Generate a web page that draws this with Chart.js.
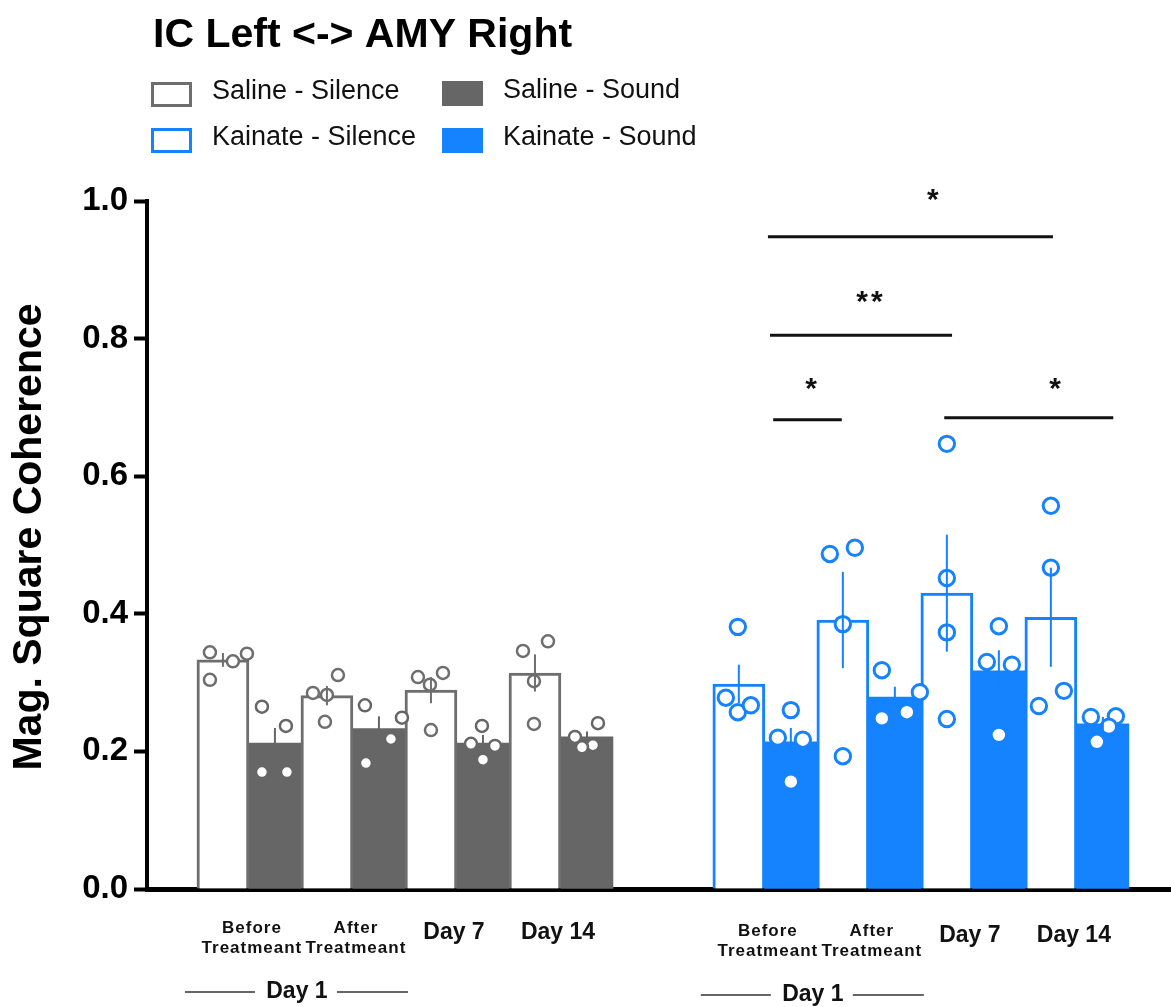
<!DOCTYPE html>
<html>
<head>
<meta charset="utf-8">
<script src="https://cdn.jsdelivr.net/npm/chart.js@4.4.1/dist/chart.umd.min.js"></script>
<style>
  html, body { margin: 0; padding: 0; background: #fff; overflow: hidden; }
  #wrap { width: 1171px; height: 1007px; position: relative; }
  canvas { display: block; }
</style>
</head>
<body>
<div id="wrap"><canvas id="chart"></canvas></div>
<script>
/* ===================== DATA ===================== */
const chartTitle = "IC Left <-> AMY Right";
const yTitle = "Mag. Square Coherence";
const timepoints = [["Before", "Treatmeant"], ["After", "Treatmeant"], ["Day 7"], ["Day 14"]];
const dayLabel = "Day 1";
const seriesNames = ["Saline - Silence", "Saline - Sound", "Kainate - Silence", "Kainate - Sound"];

// bar heights (mean)
const salineSilence = [0.333, 0.281, 0.289, 0.314];
const salineSound = [0.212, 0.233, 0.212, 0.221];
const kainateSilence = [0.298, 0.391, 0.430, 0.395];
const kainateSound = [0.214, 0.279, 0.317, 0.240];

// error (SEM)
const salineSilenceSem = [0.010, 0.014, 0.019, 0.027];
const salineSoundSem = [0.022, 0.018, 0.012, 0.008];
const kainateSilenceSem = [0.028, 0.070, 0.085, 0.072];
const kainateSoundSem = [0.020, 0.015, 0.030, 0.010];

// single animals, one row per time point
const salineSilencePts = [[0.344, 0.304, 0.331, 0.342], [0.285, 0.282, 0.311, 0.243], [0.308, 0.314, 0.297, 0.231], [0.346, 0.360, 0.302, 0.240]];
const salineSoundPts = [[0.265, 0.237, 0.170, 0.170], [0.267, 0.249, 0.218, 0.183], [0.237, 0.211, 0.208, 0.188], [0.221, 0.241, 0.209, 0.206]];
const kainateSilencePts = [[0.381, 0.278, 0.257, 0.267], [0.487, 0.496, 0.385, 0.193], [0.647, 0.452, 0.373, 0.247], [0.557, 0.467, 0.288, 0.266]];
const kainateSoundPts = [[0.260, 0.220, 0.217, 0.156], [0.318, 0.286, 0.257, 0.248], [0.382, 0.330, 0.326, 0.224], [0.250, 0.251, 0.236, 0.214]];

// significance bars (kainate group, in bar slots from its first bar)
const sigFrom = [0.56, 0.60, 0.66, 3.95];
const sigTo = [6.04, 4.10, 1.98, 7.20];
const sigY = [0.948, 0.805, 0.682, 0.685];
const sigText = ["*", "**", "*", "*"];
const sigTextX = [3.73, 2.54, 1.39, 6.08];
const sigTextY = [1.013, 0.865, 0.738, 0.738];

/* ===================== LAYOUT ===================== */
const GRAY = "#666666";
const GRAY_LINE = "#6e6e6e";
const BLUE = "#1582fe";
const KAIN = 9.92;      // slot where kainate group starts
const SLOT_PX = 52;
const FONT = "'Liberation Sans', Arial, sans-serif";

// horizontal scatter of the dots, px from bar centre
const jitter = [
  [[-13, -13, 10, 24], [-14, 0, 11, -2], [-13, 12, -1, 0], [-12, 13, -1, -1]],
  [[-13, 11, -13, 12], [-14, 23, 12, -13], [-1, -12, 12, 0], [-12, 11, 6, -5]],
  [[-1, -13, -1, 12], [-13, 12, 0, 0], [0, 0, 0, 0], [0, 0, 13, -12]],
  [[0, -13, 12, 0], [-13, 25, 12, -13], [0, -12, 13, 0], [-12, 13, 6, -6]]
];

const series = [
  { means: salineSilence, sem: salineSilenceSem, pts: salineSilencePts, color: GRAY_LINE, filled: false, base: 0, slot: 0, r: 6, bw: 2.5 },
  { means: salineSound, sem: salineSoundSem, pts: salineSoundPts, color: GRAY, filled: true, base: 0, slot: 1, r: 6, bw: 2.5 },
  { means: kainateSilence, sem: kainateSilenceSem, pts: kainateSilencePts, color: BLUE, filled: false, base: KAIN, slot: 0, r: 7.7, bw: 3 },
  { means: kainateSound, sem: kainateSoundSem, pts: kainateSoundPts, color: BLUE, filled: true, base: KAIN, slot: 1, r: 7.7, bw: 3 }
];
series.forEach((s, k) => {
  s.name = seriesNames[k];
  s.pos = s.means.map((_, i) => s.base + 2 * i + s.slot);
});

/* ===================== DATASETS ===================== */
const barSets = series.map(s => ({
  type: "bar",
  label: s.name,
  data: s.means.map((m, i) => ({ x: s.pos[i], y: m })),
  backgroundColor: s.filled ? s.color : "#ffffff",
  borderColor: s.color,
  borderWidth: s.filled ? 0 : 3,
  grouped: false,
  barPercentage: 1,
  categoryPercentage: 1,
  order: 2
}));

const dotSets = series.map((s, k) => {
  const data = [];
  s.pts.forEach((vals, i) => vals.forEach((v, j) => data.push({ x: s.pos[i] + jitter[k][i][j] / SLOT_PX, y: v })));
  return {
    type: "scatter",
    label: s.name + " (animals)",
    data,
    pointRadius: s.r,
    pointBorderWidth: s.bw,
    pointBackgroundColor: "#ffffff",
    pointBorderColor: s.color,
    order: 1
  };
});

/* ===================== OVERLAY ===================== */
function drawLegend(ctx) {
  ctx.save();
  ctx.fillStyle = "#000";
  ctx.font = "bold 41px " + FONT;
  ctx.textBaseline = "alphabetic";
  ctx.textAlign = "left";
  ctx.fillText(chartTitle, 153, 47);

  const spots = [[151, 82], [442, 81], [151, 128], [442, 128]];
  ctx.font = "27px " + FONT;
  ctx.textBaseline = "middle";
  series.forEach((s, n) => {
    const [bx, by] = spots[n];
    if (s.filled) {
      ctx.fillStyle = s.color;
      ctx.fillRect(bx, by, 41, 25);
    } else {
      ctx.strokeStyle = s.color;
      ctx.lineWidth = 3;
      ctx.strokeRect(bx + 1.5, by + 1.5, 38, 22);
    }
    ctx.fillStyle = "#111";
    ctx.fillText(s.name, bx + 61, by + 10);
  });
  ctx.restore();
}

function drawGroupLabels(ctx, x, bottom, base, dy) {
  ctx.save();
  ctx.fillStyle = "#111";
  ctx.textAlign = "center";
  ctx.textBaseline = "middle";
  timepoints.forEach((lab, i) => {
    const cx = x.getPixelForValue(base + 2 * i + 0.5);
    if (lab.length > 1) {
      ctx.font = "bold 17px " + FONT;
      ctx.letterSpacing = "1px";
      ctx.fillText(lab[0], cx + 3, bottom + 39 + dy);
      ctx.fillText(lab[1], cx + 3, bottom + 59 + dy);
      ctx.letterSpacing = "0px";
    } else {
      ctx.font = "bold 23px " + FONT;
      ctx.fillText(lab[0], cx - 3, bottom + 44 + dy);
    }
  });
  // Day 1 bracket under the first two time points
  const c = x.getPixelForValue(base + 1.5) - 4;
  const ly = bottom + 103 + dy;
  ctx.font = "bold 23px " + FONT;
  ctx.fillText(dayLabel, c, ly);
  ctx.strokeStyle = "#333";
  ctx.lineWidth = 1.5;
  ctx.beginPath();
  ctx.moveTo(c - 112, ly); ctx.lineTo(c - 42, ly);
  ctx.moveTo(c + 40, ly); ctx.lineTo(c + 111, ly);
  ctx.stroke();
  ctx.restore();
}

const overlay = {
  id: "overlay",
  afterDatasetsDraw(chart) {
    const { ctx, scales: { x, y } } = chart;
    ctx.save();
    ctx.lineWidth = 2;
    series.forEach(s => s.means.forEach((m, i) => {
      const px = x.getPixelForValue(s.pos[i]);
      ctx.strokeStyle = s.color;
      ctx.beginPath();
      ctx.moveTo(px, y.getPixelForValue(m - s.sem[i]));
      ctx.lineTo(px, y.getPixelForValue(m + s.sem[i]));
      ctx.stroke();
    }));
    ctx.restore();
  },
  afterDraw(chart) {
    const { ctx, chartArea, scales: { x, y } } = chart;
    drawLegend(ctx);
    drawGroupLabels(ctx, x, chartArea.bottom, 0, 0);
    drawGroupLabels(ctx, x, chartArea.bottom, KAIN, 3);

    // y axis title
    ctx.save();
    ctx.translate(30, 537);
    ctx.rotate(-Math.PI / 2);
    ctx.font = "bold 41px " + FONT;
    ctx.fillStyle = "#000";
    ctx.textAlign = "center";
    ctx.textBaseline = "middle";
    ctx.fillText(yTitle, 0, 0);
    ctx.restore();

    // significance bars
    ctx.save();
    ctx.strokeStyle = "#111";
    ctx.fillStyle = "#111";
    ctx.lineWidth = 3;
    ctx.textAlign = "center";
    ctx.textBaseline = "alphabetic";
    ctx.font = "bold 30px " + FONT;
    sigY.forEach((v, i) => {
      const py = y.getPixelForValue(v);
      ctx.beginPath();
      ctx.moveTo(x.getPixelForValue(KAIN + sigFrom[i]), py);
      ctx.lineTo(x.getPixelForValue(KAIN + sigTo[i]), py);
      ctx.stroke();
      ctx.letterSpacing = sigText[i].length > 1 ? "3px" : "0px";
      ctx.fillText(sigText[i], x.getPixelForValue(KAIN + sigTextX[i]), y.getPixelForValue(sigTextY[i]) + 17);
    });
    ctx.restore();
  }
};

/* ===================== CHART ===================== */
Chart.defaults.font.family = FONT;
Chart.defaults.color = "#000";

new Chart(document.getElementById("chart"), {
  type: "bar",
  data: { datasets: [...dotSets, ...barSets] },
  options: {
    responsive: true,
    maintainAspectRatio: false,
    animation: false,
    events: [],
    layout: { autoPadding: false, padding: { top: 201, left: 0, right: 0, bottom: 0 } },
    plugins: { legend: { display: false }, tooltip: { enabled: false }, title: { display: false } },
    scales: {
      x: {
        type: "linear",
        min: -1.46,
        max: 18.23,
        offset: false,
        z: 1,
        grid: { display: false },
        ticks: { display: false },
        border: { display: true, color: "#000", width: 5 },
        afterFit: s => { s.height = 118; s.paddingLeft = 0; s.paddingRight = 0; }
      },
      y: {
        min: 0,
        max: 1,
        z: 1,
        grid: { display: true, drawOnChartArea: false, drawTicks: true, tickLength: 13, tickWidth: 4, tickColor: "#000" },
        border: { display: true, color: "#000", width: 4 },
        ticks: {
          stepSize: 0.2,
          padding: 6,
          color: "#000",
          font: { size: 33, weight: "bold" },
          callback: v => v.toFixed(1)
        },
        afterFit: s => { s.width = 147; }
      }
    }
  },
  plugins: [overlay]
});
</script>
</body>
</html>
